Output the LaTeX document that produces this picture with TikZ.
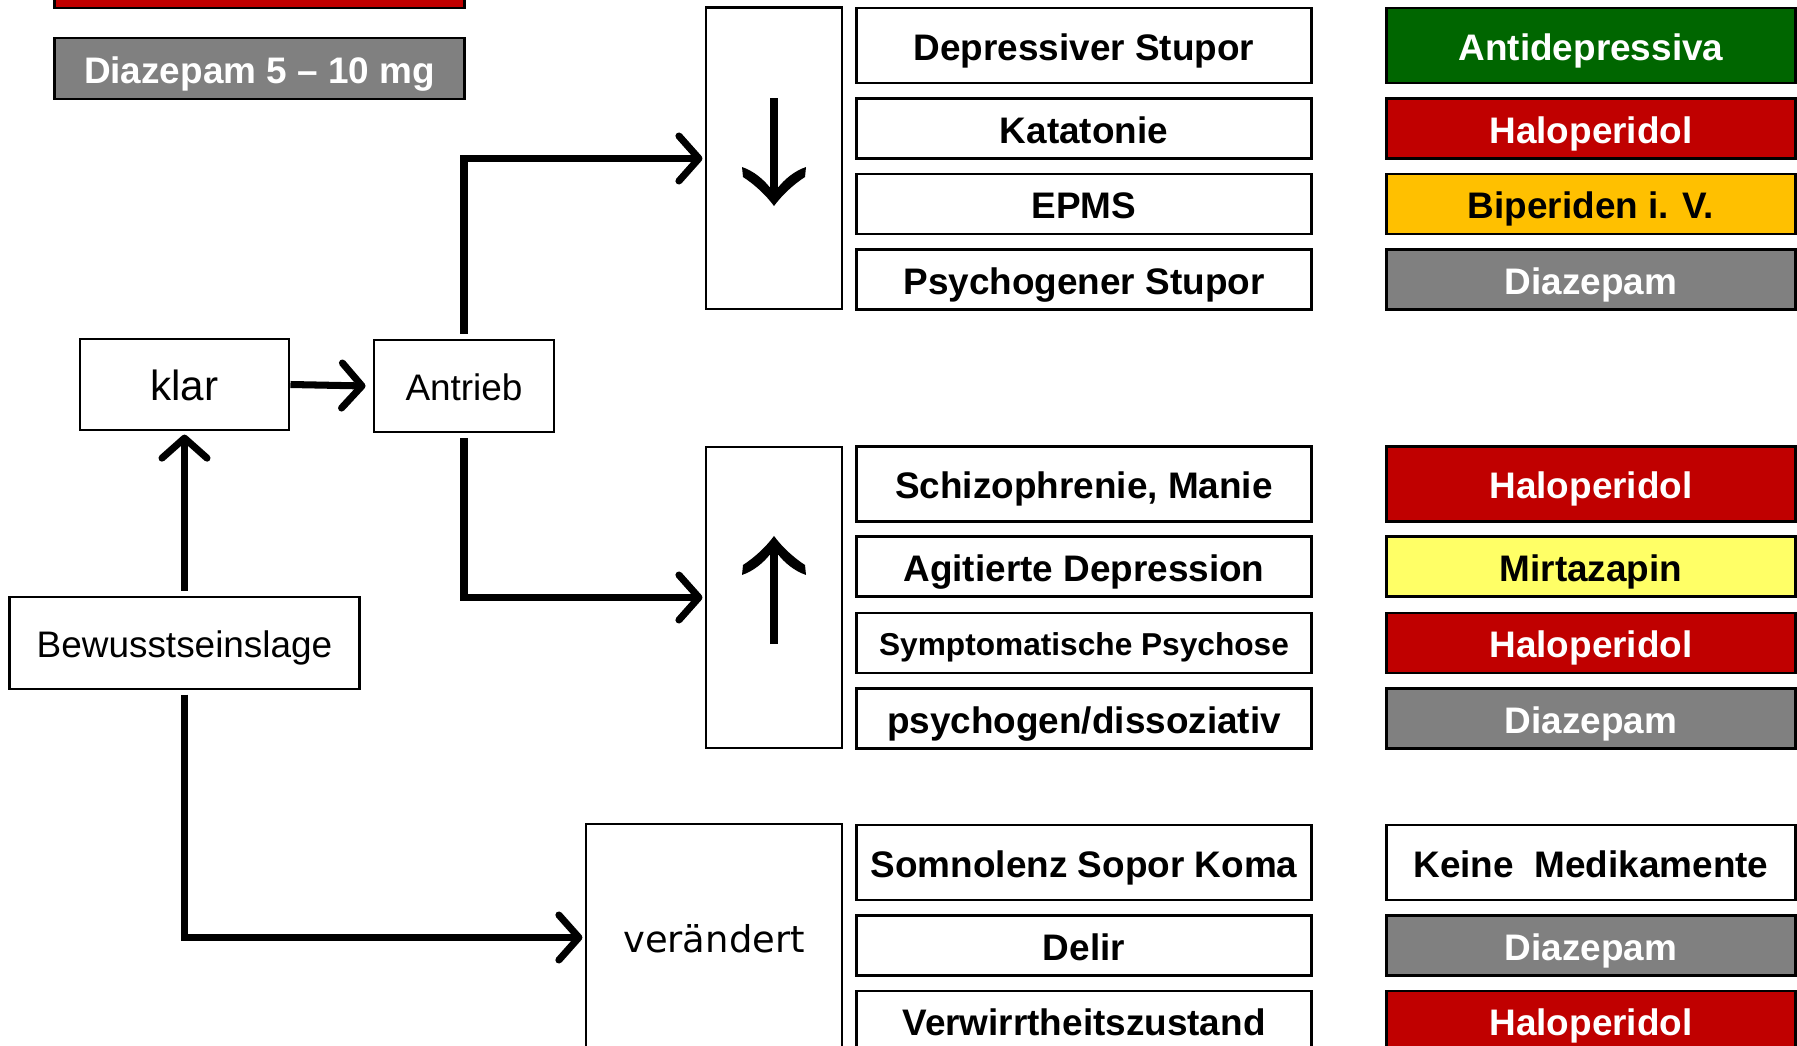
\documentclass[tikz,border=0pt]{standalone}
\usepackage{fontspec}
\setmainfont{Liberation Sans}
\newfontfamily\dejavufont{DejaVu Sans}
\usetikzlibrary{arrows.meta}
\definecolor{darkgreen}{HTML}{006600}
\definecolor{halored}{HTML}{C00000}
\definecolor{biporange}{HTML}{FFC000}
\definecolor{diazgray}{HTML}{808080}
\definecolor{mirtyellow}{HTML}{FFFF66}
\begin{document}
\begin{tikzpicture}[x=0.01cm, y=-0.01cm,
    box/.style={draw, line width=0.8pt, inner sep=0pt, text height=8.4pt, text depth=0pt, font=\fontsize{10.5}{12}\selectfont},
    diag/.style={box, minimum width=4.54cm, minimum height=0.6cm, font=\fontsize{10.5}{12}\selectfont\bfseries},
    med/.style={box, minimum width=4.08cm, minimum height=0.6cm, text=white, font=\fontsize{10.5}{12}\selectfont\bfseries},
    tall/.style={minimum height=0.75cm},
    conn/.style={line width=2pt, -{Straight Barb[length=0.2cm, width=0.45cm, line cap=round, line join=round]}},
    shaft/.style={line width=2.3pt},
    pics/headglyph/.style={code={
        \fill (0,0) .. controls (-8,-11) and (-20,-22) .. (-31,-29) -- (-32,-39)
            .. controls (-20,-35) and (-10,-26) .. (-4.5,-19) -- (4.5,-19)
            .. controls (10,-26) and (20,-35) .. (32,-39) -- (31,-29)
            .. controls (20,-22) and (8,-11) .. (0,0) -- cycle;
    }}
]
    \clip (0,0) rectangle (1797,1046);

    \node[box, fill=halored, minimum width=4.09cm, minimum height=0.6cm] (dosered) at (259.5,-22) {};
    \node[box, fill=diazgray, text=white, minimum width=4.09cm, minimum height=0.61cm, font=\fontsize{10.5}{12}\selectfont\bfseries] (dosegray) at (259.5,68.5) {Diazepam 5 -- 10 mg};

    \node[box, minimum width=2.09cm, minimum height=0.91cm, text height=9.2pt, font=\fontsize{12}{14}\selectfont] (klar) at (184.5,384.5) {klar};
    \node[box, minimum width=1.80cm, minimum height=0.92cm] (antrieb) at (464,386) {Antrieb};
    \node[box, minimum width=3.49cm, minimum height=0.92cm] (bew) at (184.5,643) {Bewusstseinslage};

    \node[box, minimum width=1.36cm, minimum height=3.01cm] (downbox) at (774,158.5) {};
    \node[box, minimum width=1.36cm, minimum height=3.01cm] (upbox) at (774,597.5) {};
    \node[box, minimum width=2.56cm, minimum height=2.27cm, font=\fontsize{10.5}{12}\dejavufont] (veraendert) at (714,937.5) {verändert};

    \draw[shaft] ([yshift=0.6cm]downbox.center) -- ([yshift=-0.38cm]downbox.center);
    \pic at ([yshift=-0.475cm]downbox.center) {headglyph};
    \draw[shaft] ([yshift=-0.465cm]upbox.center) -- ([yshift=0.52cm]upbox.center);
    \pic[yscale=-1] at ([yshift=0.615cm]upbox.center) {headglyph};

    \node[diag, tall] (depstupor) at (1084,45.5) {Depressiver Stupor};
    \node[diag] (katatonie) at (1084,128.5) {Katatonie};
    \node[diag] (epms) at (1084,204) {EPMS};
    \node[diag] (psystupor) at (1084,279.5) {Psychogener Stupor};

    \node[diag, tall] (schizo) at (1084,484) {Schizophrenie, Manie};
    \node[diag] (agitiert) at (1084,566.5) {Agitierte Depression};
    \node[diag, text height=7.2pt, font=\fontsize{9}{11}\selectfont\bfseries] (sympsych) at (1084,643) {Symptomatische Psychose};
    \node[diag] (dissoz) at (1084,718.5) {psychogen/dissoziativ};

    \node[diag, tall] (somnolenz) at (1084,862.5) {Somnolenz Sopor Koma};
    \node[diag] (delir) at (1084,945.5) {Delir};
    \node[diag] (verwirrt) at (1084,1021) {Verwirrtheitszustand};

    \node[med, tall, fill=darkgreen] (antidep) at (1591,45.5) {Antidepressiva};
    \node[med, fill=halored] (halo1) at (1591,128.5) {Haloperidol};
    \node[med, fill=biporange, text=black] (biperiden) at (1591,204) {Biperiden i. V.};
    \node[med, fill=diazgray] (diaz1) at (1591,279.5) {Diazepam};

    \node[med, tall, fill=halored] (halo2) at (1591,484) {Haloperidol};
    \node[med, fill=mirtyellow, text=black] (mirtazapin) at (1591,566.5) {Mirtazapin};
    \node[med, fill=halored] (halo3) at (1591,643) {Haloperidol};
    \node[med, fill=diazgray] (diaz2) at (1591,718.5) {Diazepam};

    \node[med, tall, text=black] (keine) at (1591,862.5) {Keine\ \ Medikamente};
    \node[med, fill=diazgray] (diaz3) at (1591,945.5) {Diazepam};
    \node[med, fill=halored] (halo4) at (1591,1021) {Haloperidol};

    \draw[conn] ([yshift=1.4pt]bew.north) -- ([yshift=-0.9pt]klar.south);
    \draw[conn] (klar.east) -- ([xshift=-2pt]antrieb.west);
    \draw[conn] ([yshift=1.4pt]antrieb.north) |- ([xshift=-0.6pt]downbox.west);
    \draw[conn] ([yshift=-1.4pt]antrieb.south) |- ([xshift=-0.6pt]upbox.west);
    \draw[conn] ([yshift=-1.2pt]bew.south) |- ([xshift=-0.6pt]veraendert.west);
\end{tikzpicture}
\end{document}
